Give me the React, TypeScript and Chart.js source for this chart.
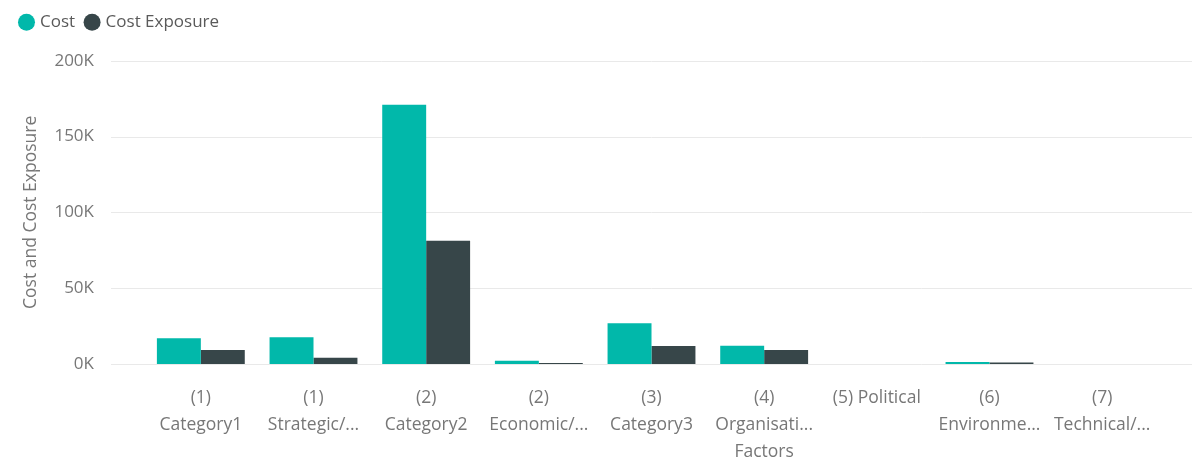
import React, { useEffect, useRef } from "react";
import { Chart, registerables } from "chart.js";

Chart.register(...registerables);

const categories: (string | string[])[] = [
  ["(1)", "Category1"],
  ["(1)", "Strategic/..."],
  ["(2)", "Category2"],
  ["(2)", "Economic/..."],
  ["(3)", "Category3"],
  ["(4)", "Organisati...", "Factors"],
  "(5) Political",
  ["(6)", "Environme..."],
  ["(7)", "Technical/..."],
];

const costValues = [16900, 17700, 171000, 2200, 26900, 12000, 0, 1300, 0];
const exposureValues = [9200, 4100, 81300, 700, 11800, 9200, 0, 1000, 0];

const yTickValues = [0, 50000, 100000, 150000, 200000];

const FONT = "'Segoe UI', 'Open Sans', 'Noto Sans', sans-serif";
const TEAL = "#01B8AA";
const DARK = "#374649";
const GRID_COLOR = "#e9e9e9";
const TICK_COLOR = "#777777";
const GRID_LEFT = 111;
const GRID_RIGHT = 1192;

const extGridPlugin = {
  id: "extGrid",
  beforeDatasetsDraw(chart: any) {
    const y = chart.scales.y;
    const ctx = chart.ctx;
    ctx.save();
    ctx.strokeStyle = GRID_COLOR;
    ctx.lineWidth = 1;
    y.ticks.forEach((t: any) => {
      const py = Math.round(y.getPixelForValue(t.value)) + 0.5;
      ctx.beginPath();
      ctx.moveTo(GRID_LEFT, py);
      ctx.lineTo(GRID_RIGHT, py);
      ctx.stroke();
    });
    ctx.restore();
  },
};

export default function App() {
  const canvasRef = useRef<HTMLCanvasElement | null>(null);

  useEffect(() => {
    if (!canvasRef.current) return;
    const chart = new Chart(canvasRef.current, {
      type: "bar",
      data: {
        labels: categories,
        datasets: [
          {
            label: "Cost",
            data: costValues,
            backgroundColor: TEAL,
            borderWidth: 0,
            categoryPercentage: 0.78,
            barPercentage: 1,
          },
          {
            label: "Cost Exposure",
            data: exposureValues,
            backgroundColor: DARK,
            borderWidth: 0,
            categoryPercentage: 0.78,
            barPercentage: 1,
          },
        ],
      },
      options: {
        animation: false,
        responsive: true,
        maintainAspectRatio: false,
        layout: { padding: { left: 9.5, right: 43.5, top: 0, bottom: 0 } },
        plugins: {
          tooltip: { enabled: false },
          legend: {
            display: true,
            position: "top",
            align: "start",
            weight: 3000,
            labels: {
              usePointStyle: true,
              pointStyle: "circle",
              boxWidth: 10,
              boxHeight: 12,
              padding: 12,
              color: "#5a5a5a",
              font: { family: FONT, size: 17 },
            },
          } as any,
          title: {
            display: true,
            text: "",
            font: { size: 1 },
            padding: { top: 0, bottom: 18.8 },
          },
        },
        scales: {
          x: {
            grid: { display: false, drawTicks: false },
            border: { display: false },
            ticks: {
              color: TICK_COLOR,
              padding: 20,
              maxRotation: 0,
              autoSkip: false,
              font: { family: FONT, size: 17.5, lineHeight: 1.55 },
            },
            afterFit: (s: any) => {
              s.height = 106;
            },
          },
          y: {
            min: 0,
            max: 200000,
            grid: { display: false, drawTicks: false },
            border: { display: false },
            afterBuildTicks: (s: any) => {
              s.ticks = yTickValues.map((v) => ({ value: v }));
            },
            ticks: {
              color: TICK_COLOR,
              padding: 50.5,
              font: { family: FONT, size: 17 },
              callback: (v: any) => `${Number(v) / 1000}K`,
            },
            title: {
              display: true,
              text: "Cost and Cost Exposure",
              color: TICK_COLOR,
              font: { family: FONT, size: 17.5 },
              padding: { top: 11, bottom: 0 },
            },
            afterFit: (s: any) => {
              s.width = 135;
            },
          },
        },
      },
      plugins: [extGridPlugin],
    });
    return () => chart.destroy();
  }, []);

  return (
    <div style={{ position: "absolute", left: 0, top: 0, width: 1202, height: 470 }}>
      <canvas ref={canvasRef} />
    </div>
  );
}
